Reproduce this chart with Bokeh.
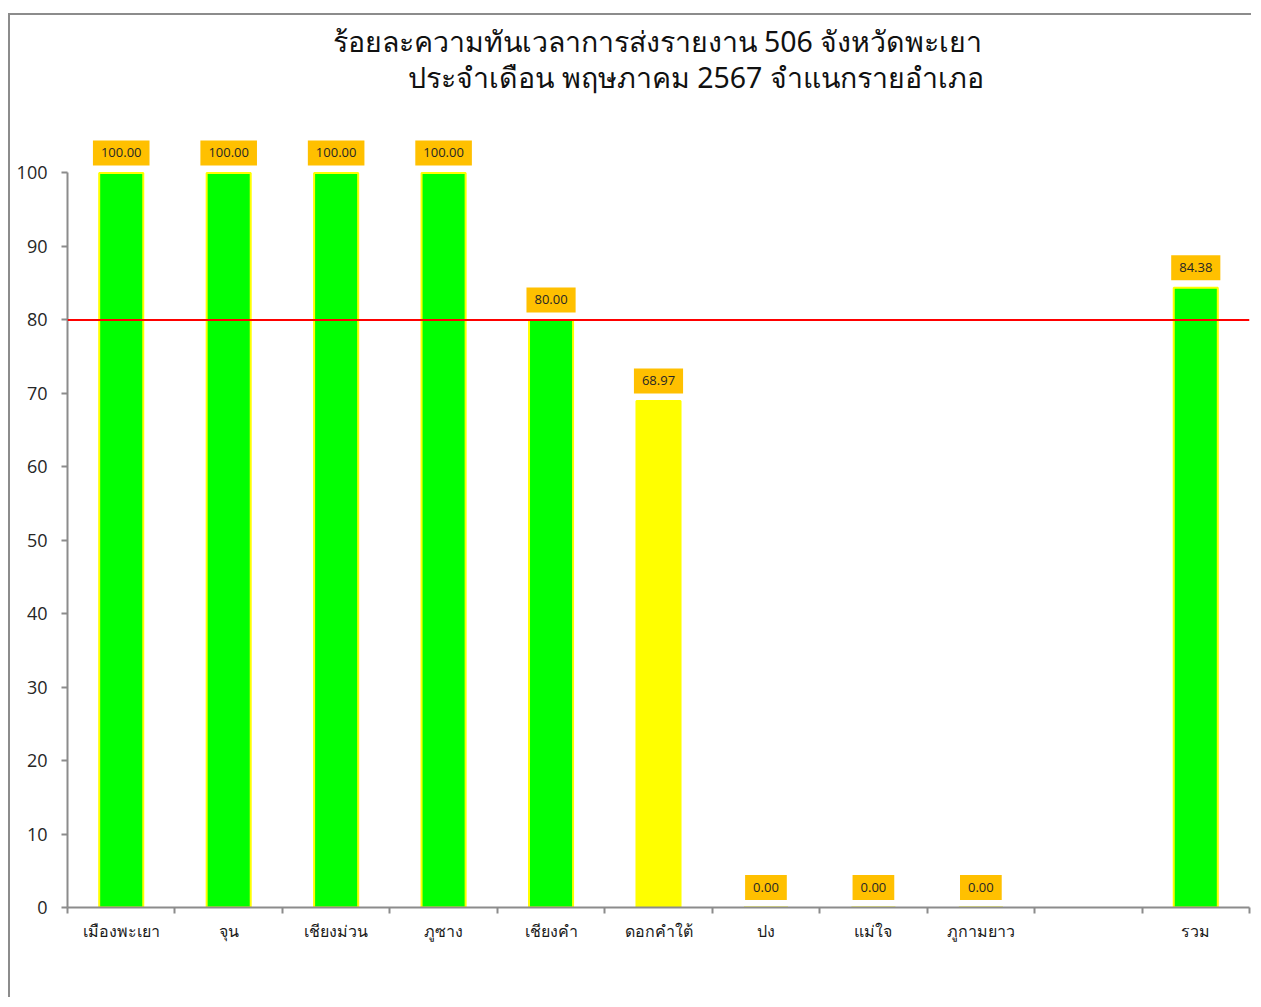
from bokeh.plotting import figure
from bokeh.models import Range1d, FixedTicker, Span, Label, ColumnDataSource
from bokeh.core.properties import value
from bokeh.embed import file_html
from bokeh.resources import INLINE

# ---- data ----
categories = ["เมืองพะเยา", "จุน", "เชียงม่วน", "ภูซาง", "เชียงคำ", "ดอกคำใต้",
              "ปง", "แม่ใจ", "ภูกามยาว", "", "รวม"]
percent = [100.00, 100.00, 100.00, 100.00, 80.00, 68.97, 0.00, 0.00, 0.00, None, 84.38]
target = 80
y_ticks = [0, 10, 20, 30, 40, 50, 60, 70, 80, 90, 100]
title_line1 = "ร้อยละความทันเวลาการส่งรายงาน 506 จังหวัดพะเยา"
title_line2 = "ประจำเดือน พฤษภาคม 2567 จำแนกรายอำเภอ"

GREEN = "#00FF00"
YELLOW = "#FFFF00"
ORANGE = "#FFC000"
AXIS = "#8c8c8c"

centers = [i + 0.5 for i in range(len(categories))]
bounds = list(range(len(categories) + 1))

xs, ys, fills, texts = [], [], [], []
for c, v in zip(centers, percent):
    if v is None:
        continue
    xs.append(c)
    ys.append(v)
    fills.append(GREEN if v >= target else YELLOW)
    texts.append(f"{v:.2f}")
src = ColumnDataSource(dict(x=xs, top=ys, fill=fills, label=texts))

W, H = 1243, 984
p = figure(width=W, height=H, output_backend="svg", toolbar_location=None,
           x_range=Range1d(0, len(categories)), y_range=Range1d(0, 121.44),
           min_border_left=57, min_border_right=4, min_border_top=0, min_border_bottom=92)
p.title.visible = False
p.styles = {"margin-top": "13px", "margin-left": "8px",
            "border-left": "2px solid #8c8c8c", "border-top": "2px solid #8c8c8c"}
p.outline_line_color = None
p.xgrid.visible = False
p.ygrid.visible = False
p.background_fill_color = "white"
p.border_fill_color = "white"

p.vbar(x="x", top="top", bottom=0, width=0.41, fill_color="fill", line_color=YELLOW,
       line_width=2, source=src)

p.add_layout(Span(location=target, dimension="width", line_color="#FF0000", line_width=2))

p.text(x="x", y="top", text="label", source=src, y_offset=-20,
       text_align="center", text_baseline="middle",
       text_font=value("Open Sans"), text_font_size="13px", text_color="#262626",
       background_fill_color=ORANGE, border_line_color=None,
       padding=dict(left=8, right=8, top=8, bottom=8))

# x axis
xa = p.xaxis[0]
xa.ticker = FixedTicker(ticks=centers, minor_ticks=bounds)
xa.major_label_overrides = {c: n for c, n in zip(centers, categories)}
xa.major_tick_line_color = None
xa.major_tick_out = 0
xa.major_tick_in = 0
xa.minor_tick_line_color = AXIS
xa.minor_tick_line_width = 2
xa.minor_tick_out = 6
xa.minor_tick_in = 0
xa.axis_line_color = AXIS
xa.axis_line_width = 2
xa.major_label_standoff = 6
xa.major_label_text_font = "Noto Sans"
xa.major_label_text_font_size = "16px"
xa.major_label_text_color = "#1a1a1a"

# y axis
ya = p.yaxis[0]
ya.ticker = FixedTicker(ticks=y_ticks, minor_ticks=[])
ya.bounds = (0, 100)
ya.axis_line_color = AXIS
ya.axis_line_width = 2
ya.major_tick_line_color = AXIS
ya.major_tick_line_width = 2
ya.major_tick_out = 6
ya.major_tick_in = 0
ya.minor_tick_line_color = None
ya.major_label_standoff = 14
ya.major_label_text_font = "Open Sans"
ya.major_label_text_font_size = "18px"
ya.major_label_text_color = "#262626"

# title (placed in data space above the plotted values)
p.add_layout(Label(x=5.49, y=118.0, text=title_line1,
                   text_align="center", text_baseline="middle",
                   text_font="Noto Sans", text_font_size="28.5px", text_color="#111111"))
p.add_layout(Label(x=5.85, y=113.1, text=title_line2,
                   text_align="center", text_baseline="middle",
                   text_font="Noto Sans", text_font_size="28.5px", text_color="#111111"))

open("out.html", "w").write(file_html(p, INLINE))
